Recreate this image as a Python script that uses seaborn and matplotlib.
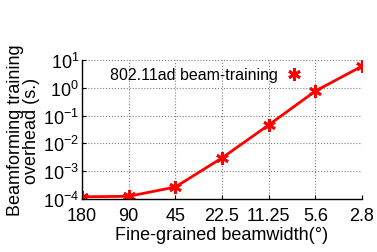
import matplotlib
matplotlib.use("Agg")
import matplotlib.pyplot as plt
import seaborn as sns
import pandas as pd
from matplotlib.lines import Line2D

# beamwidth categories and overhead (s.)
beamwidths = ["180", "90", "45", "22.5", "11.25", "5.6", "2.8"]
overhead = [1.2e-4, 1.25e-4, 2.7e-4, 3.0e-3, 4.6e-2, 0.76, 6.0]

df = pd.DataFrame({"idx": range(len(beamwidths)), "overhead": overhead})

sns.set_style("ticks")
plt.rcParams['font.family'] = ['Liberation Sans', 'DejaVu Sans']
plt.rcParams['mathtext.fontset'] = 'custom'
plt.rcParams['mathtext.rm'] = 'Liberation Sans'
plt.rcParams['text.color'] = 'black'
plt.rcParams['axes.labelcolor'] = 'black'
plt.rcParams['xtick.color'] = 'black'
plt.rcParams['ytick.color'] = 'black'
plt.rcParams['axes.edgecolor'] = 'black'

fig = plt.figure(figsize=(3.77, 2.53), dpi=100)
ax = fig.add_axes([82/377, 53/253, 280/377, 139/253])

sns.lineplot(data=df, x="idx", y="overhead", ax=ax, color="red", lw=2,
             marker=(6, 2, 0), markersize=9, markeredgewidth=2,
             markeredgecolor="red")
ax.set_yscale("log")
ax.set_ylim(1e-4, 10)
ax.set_xlim(0, len(beamwidths) - 1)
ax.set_xticks(range(len(beamwidths)))
ax.set_xticklabels(beamwidths)
ax.set_yticks([1e-4, 1e-3, 1e-2, 1e-1, 1e0, 1e1])
ax.minorticks_off()
ax.tick_params(labelsize=13, length=3, direction="in")
ax.tick_params(axis="x", pad=6)
ax.tick_params(axis="y", pad=2)
ax.grid(True, ls=":", color="gray", lw=0.8)
for s in ["top", "right"]:
    ax.spines[s].set_visible(False)
ax.spines["left"].set_linewidth(1)
ax.spines["bottom"].set_linewidth(1)

ax.set_xlabel("Fine-grained beamwidth(°)", fontsize=13, labelpad=1)
ax.set_ylabel("Beamforming training\noverhead (s.)", fontsize=13, labelpad=2,
              linespacing=0.95)

h = Line2D([], [], color="red", lw=0, marker=(6, 2, 0), markersize=9,
           markeredgewidth=2)
ax.legend([h], ["802.11ad beam-training"], loc="upper left",
          bbox_to_anchor=(0.05, 1.05), markerfirst=False, frameon=False,
          fontsize=11.5, handlelength=1.0, handletextpad=0.5)

fig.savefig("out.png", dpi=100)
